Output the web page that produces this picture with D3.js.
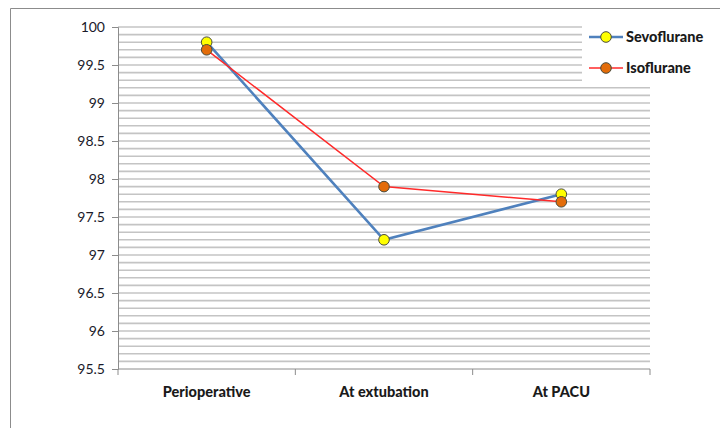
<!DOCTYPE html>
<html>
<head>
<meta charset="utf-8">
<script src="https://cdn.jsdelivr.net/npm/d3@7"></script>
<style>
  body { margin: 0; background: #fff; }
  svg { display: block; font-family: Lato, "Open Sans", sans-serif; }
</style>
</head>
<body>
<svg id="chart" width="720" height="428"></svg>
<script>
// Oxygen saturation by stage
const categories = ["Perioperative", "At extubation", "At PACU"];
const sevoflurane = [99.8, 97.2, 97.8];
const isoflurane = [99.7, 97.9, 97.7];
const yTicks = [95.5, 96, 96.5, 97, 97.5, 98, 98.5, 99, 99.5, 100];
const yTickLabels = ["95.5", "96", "96.5", "97", "97.5", "98", "98.5", "99", "99.5", "100"];
const gridValues = d3.range(956, 1001).map(v => v / 10);

const seriesList = [
  { name: "Sevoflurane", values: sevoflurane, line: "#4f81bd", width: 2.6, fill: "#ffff00" },
  { name: "Isoflurane", values: isoflurane, line: "#ff2a2a", width: 1.5, fill: "#e36c09" }
];

const svg = d3.select("#chart");
const plot = { left: 118, right: 650, top: 27, bottom: 369 };

// outer frame
svg.append("path")
  .attr("d", `M10.5,430 V8.5 H730`)
  .attr("fill", "none").attr("stroke", "#8c8c8c").attr("stroke-width", 1);

const x = d3.scaleBand().domain(categories).range([plot.left, plot.right]);
const y = d3.scaleLinear().domain([95.5, 100]).range([plot.bottom, plot.top]);

// horizontal gridlines
svg.append("g").selectAll("line").data(gridValues).join("line")
  .attr("x1", plot.left).attr("x2", plot.right)
  .attr("y1", d => y(d)).attr("y2", d => y(d))
  .attr("stroke", "#c4c4c4").attr("stroke-width", 1.6);

// y axis
const yAxis = d3.axisLeft(y).tickValues(yTicks)
  .tickFormat((d, i) => yTickLabels[i]).tickSize(6).tickPadding(7);
const gy = svg.append("g").attr("transform", `translate(${plot.left},0)`).call(yAxis);
gy.select(".domain").attr("stroke", "#8c8c8c");
gy.selectAll(".tick line").attr("stroke", "#8c8c8c");
gy.selectAll(".tick text").attr("font-size", 14).attr("fill", "#1a1a2a")
  .attr("font-family", "Lato, sans-serif");

// x axis with boundary ticks
const gx = svg.append("g").attr("transform", `translate(0,${plot.bottom})`);
gx.append("line").attr("x1", plot.left).attr("x2", plot.right)
  .attr("stroke", "#8c8c8c");
const bounds = categories.map(c => x(c)).concat([plot.right]);
gx.selectAll("line.tk").data(bounds).join("line").attr("class", "tk")
  .attr("x1", d => d).attr("x2", d => d).attr("y1", 0).attr("y2", 6)
  .attr("stroke", "#8c8c8c");
gx.selectAll("text").data(categories).join("text")
  .attr("x", d => x(d) + x.bandwidth() / 2).attr("y", 28)
  .attr("text-anchor", "middle").attr("font-size", 14.5).attr("font-weight", 900)
  .attr("fill", "#1a1a1a").text(d => d);

// series lines and markers
const cx = i => x(categories[i]) + x.bandwidth() / 2;
const lineGen = d3.line().x((d, i) => cx(i)).y(d => y(d));
seriesList.forEach(s => {
  svg.append("path").datum(s.values).attr("d", lineGen)
    .attr("fill", "none").attr("stroke", s.line).attr("stroke-width", s.width);
});
seriesList.forEach(s => {
  svg.append("g").selectAll("circle").data(s.values).join("circle")
    .attr("cx", (d, i) => cx(i)).attr("cy", d => y(d)).attr("r", 5.3)
    .attr("fill", s.fill).attr("stroke", "#4a4a3a").attr("stroke-width", 1);
});

// legend with white backing box
const legend = svg.append("g");
legend.append("rect").attr("x", 582).attr("y", 24).attr("width", 130).attr("height", 59)
  .attr("fill", "#fff");
seriesList.forEach((s, i) => {
  const ly = 37 + i * 31;
  legend.append("line").attr("x1", 589).attr("x2", 623).attr("y1", ly).attr("y2", ly)
    .attr("stroke", s.line).attr("stroke-width", s.width);
  legend.append("circle").attr("cx", 606).attr("cy", ly).attr("r", 5.3)
    .attr("fill", s.fill).attr("stroke", "#4a4a3a").attr("stroke-width", 1);
  legend.append("text").attr("x", 626).attr("y", ly).attr("dy", "0.35em")
    .attr("font-size", 14.5).attr("font-weight", 900).attr("fill", "#1a1a1a")
    .text(s.name);
});
</script>
</body>
</html>
